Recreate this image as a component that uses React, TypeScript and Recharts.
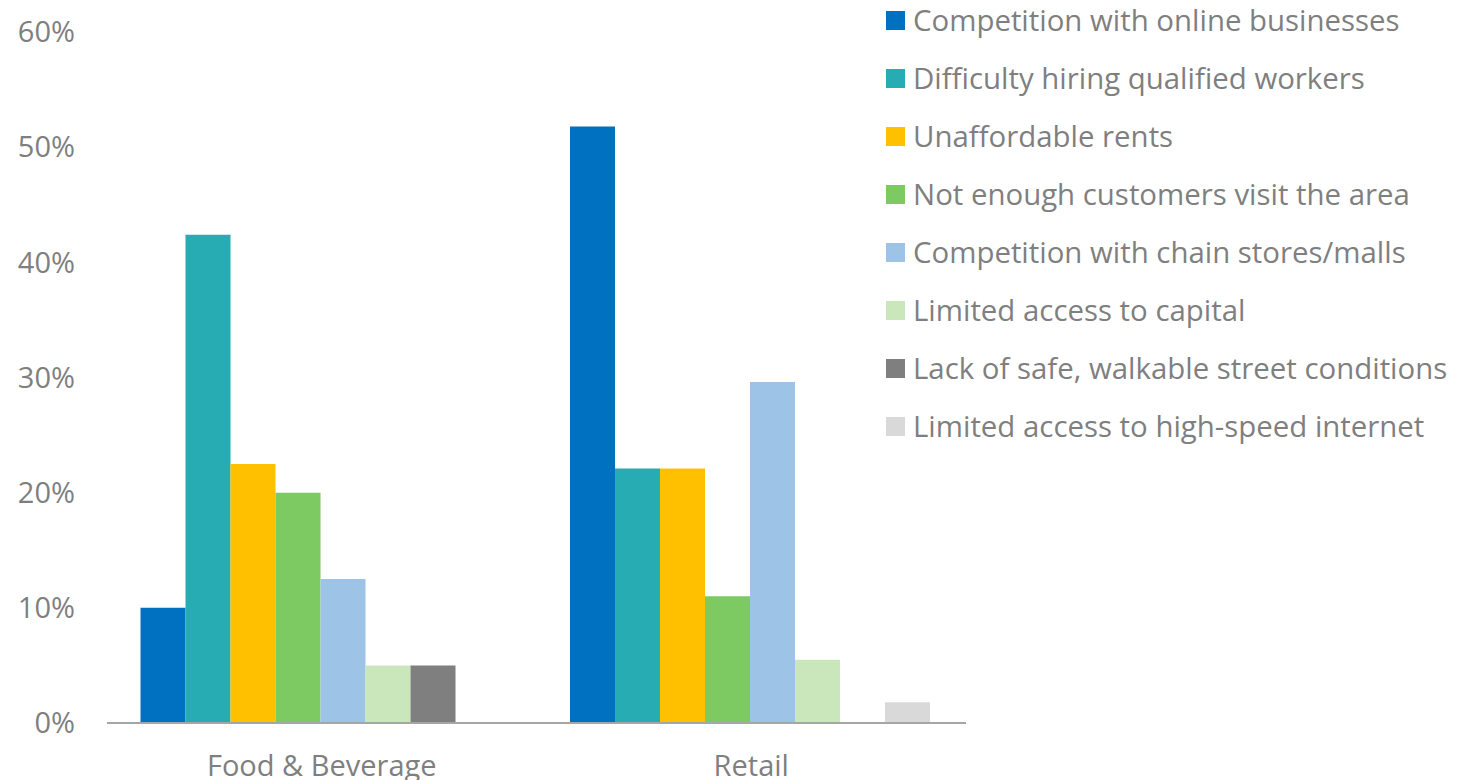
import { Bar, BarChart, XAxis, YAxis } from "recharts";

const CATEGORIES = ["Food & Beverage", "Retail"];

const SERIES_NAMES = [
  "Competition with online businesses",
  "Difficulty hiring qualified workers",
  "Unaffordable rents",
  "Not enough customers visit the area",
  "Competition with chain stores/malls",
  "Limited access to capital",
  "Lack of safe, walkable street conditions",
  "Limited access to high-speed internet",
];

// one row per series: [Food & Beverage, Retail]
const SERIES_VALUES = [
  [0.1, 0.518],
  [0.424, 0.221],
  [0.225, 0.221],
  [0.2, 0.11],
  [0.125, 0.296],
  [0.05, 0.055],
  [0.05, 0],
  [0, 0.018],
];

const COLORS = [
  "#0070C0",
  "#27ACB3",
  "#FFC000",
  "#7DC962",
  "#9DC3E6",
  "#C9E7BB",
  "#7F7F7F",
  "#D9D9D9",
];

const Y_TICKS = [0, 0.1, 0.2, 0.3, 0.4, 0.5, 0.6];

const TEXT = "#7F7F7F";
const FONT = "'Open Sans', sans-serif";
const FONT_SIZE = 29;

const data = CATEGORIES.map((name, ci) => {
  const row: Record<string, string | number> = { name };
  SERIES_NAMES.forEach((s, si) => {
    row[`s${si}`] = SERIES_VALUES[si][ci];
  });
  return row;
});

function LegendList() {
  return (
    <div
      style={{
        position: "absolute",
        top: -9,
        left: 886,
        fontFamily: FONT,
        fontSize: 29.4,
        color: TEXT,
      }}
    >
      {SERIES_NAMES.map((s, i) => (
        <div
          key={s}
          style={{ display: "flex", alignItems: "center", height: 58, whiteSpace: "nowrap" }}
        >
          <span
            style={{
              display: "inline-block",
              width: 19,
              height: 19,
              background: COLORS[i],
              marginRight: 8,
            }}
          />
          <span>{s}</span>
        </div>
      ))}
    </div>
  );
}

export default function App() {
  return (
    <div style={{ position: "absolute", top: 0, left: 0, width: 1471, height: 800 }}>
      <BarChart
        width={1471}
        height={800}
        data={data}
        margin={{ top: 32, right: 505, bottom: 27, left: 0 }}
        barCategoryGap="7.8%"
        barGap={0}
      >
        <XAxis
          dataKey="name"
          axisLine={{ stroke: "#A6A6A6", strokeWidth: 2 }}
          tickLine={false}
          tickSize={0}
          tickMargin={32}
          height={50}
          tick={{ fill: TEXT, fontSize: FONT_SIZE, fontFamily: FONT }}
        />
        <YAxis
          domain={[0, 0.6]}
          ticks={Y_TICKS}
          width={107}
          axisLine={false}
          tickLine={false}
          tickSize={0}
          tickMargin={32}
          tickFormatter={(v: number) => `${Math.round(v * 100)}%`}
          tick={{ fill: TEXT, fontSize: FONT_SIZE, fontFamily: FONT }}
        />
        {SERIES_NAMES.map((s, i) => (
          <Bar
            key={s}
            dataKey={`s${i}`}
            name={s}
            fill={COLORS[i]}
            isAnimationActive={false}
          />
        ))}
      </BarChart>
      <LegendList />
    </div>
  );
}
